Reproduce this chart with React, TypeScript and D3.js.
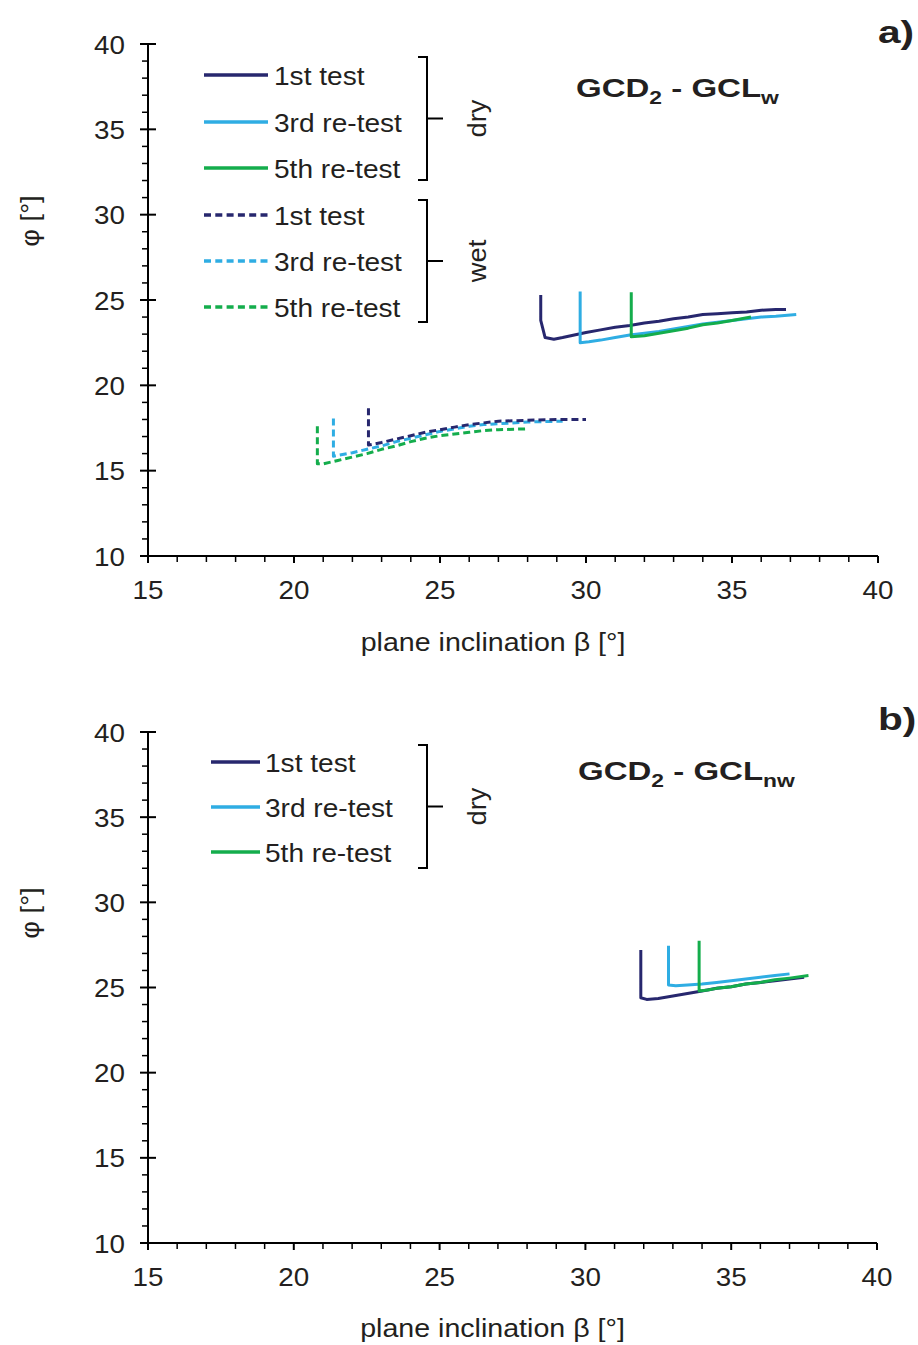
import React from "react";
import * as d3 from "d3";

type Pt = [number, number];

const xTicks = [15, 20, 25, 30, 35, 40];
const yTicks = [10, 15, 20, 25, 30, 35, 40];

// panel a) dry
const dry1stA: Pt[] = [[28.45, 25.3], [28.45, 23.8], [28.6, 22.8], [28.9, 22.7], [29.2, 22.8], [29.6, 22.95], [30, 23.1], [30.5, 23.25], [31, 23.4], [31.5, 23.5], [32, 23.65], [32.5, 23.75], [33, 23.9], [33.5, 24.0], [34, 24.15], [34.5, 24.2], [35, 24.25], [35.5, 24.3], [36, 24.4], [36.5, 24.45], [36.85, 24.45]];
const dry3rdA: Pt[] = [[29.8, 25.5], [29.8, 22.5], [30.1, 22.55], [30.5, 22.65], [31, 22.8], [31.5, 22.95], [32, 23.05], [32.5, 23.15], [33, 23.3], [33.5, 23.45], [34, 23.6], [34.5, 23.7], [35, 23.8], [35.5, 23.9], [36, 24.0], [36.5, 24.05], [37.2, 24.15]];
const dry5thA: Pt[] = [[31.55, 25.45], [31.55, 22.85], [32, 22.9], [32.5, 23.05], [33, 23.2], [33.5, 23.35], [34, 23.55], [34.5, 23.65], [35, 23.8], [35.65, 24.0]];
// panel a) wet
const wet1stA: Pt[] = [[22.55, 18.65], [22.55, 16.5], [23, 16.65], [23.5, 16.85], [24, 17.05], [24.5, 17.25], [25, 17.4], [25.5, 17.55], [26, 17.7], [26.5, 17.8], [27, 17.9], [28, 17.95], [29, 18.0], [30, 18.0]];
const wet3rdA: Pt[] = [[21.35, 18.05], [21.35, 15.85], [22, 16.05], [22.5, 16.25], [23, 16.45], [23.5, 16.7], [24, 16.9], [24.5, 17.1], [25, 17.3], [25.5, 17.45], [26, 17.6], [26.5, 17.7], [27, 17.75], [28, 17.85], [29.2, 17.9]];
const wet5thA: Pt[] = [[20.8, 17.6], [20.8, 15.4], [21.0, 15.4], [21.5, 15.6], [22, 15.8], [22.5, 16.0], [23, 16.25], [23.5, 16.45], [24, 16.7], [24.5, 16.9], [25, 17.05], [25.5, 17.15], [26, 17.25], [26.5, 17.35], [27, 17.4], [27.95, 17.45]];
// panel b) dry
const dry1stB: Pt[] = [[31.9, 27.2], [31.9, 24.4], [32.1, 24.3], [32.5, 24.35], [33, 24.5], [33.5, 24.65], [34, 24.8], [34.5, 24.95], [35, 25.05], [35.5, 25.2], [36, 25.3], [36.5, 25.4], [37, 25.5], [37.5, 25.6]];
const dry3rdB: Pt[] = [[32.85, 27.45], [32.85, 25.15], [33.1, 25.1], [33.5, 25.15], [34, 25.2], [34.5, 25.3], [35, 25.4], [35.5, 25.5], [36, 25.6], [36.5, 25.7], [37, 25.8]];
const dry5thB: Pt[] = [[33.9, 27.75], [33.9, 24.8], [34.2, 24.85], [34.5, 24.95], [35, 25.05], [35.5, 25.2], [36, 25.3], [36.5, 25.45], [37, 25.55], [37.65, 25.7]];

const legendLabels = ["1st test", "3rd re-test", "5th re-test"];
const NAVY = "#27276e";
const CYAN = "#2fade3";
const GREEN = "#14ad4c";
const colors = [NAVY, CYAN, GREEN];
const FONT = "Liberation Sans, Arial, sans-serif";
const INK = "#231f20";

type Series = { data: Pt[]; color: string; dashed: boolean };

function T(props: { x: number; y: number; size: number; sx?: number; anchor?: string; bold?: boolean; rot?: number; children: React.ReactNode }) {
  const sx = props.sx ?? 1.08;
  const tr = props.rot ? `translate(${props.x},${props.y}) rotate(${props.rot}) scale(${sx},1)` : `translate(${props.x},${props.y}) scale(${sx},1)`;
  return (
    <text transform={tr} textAnchor={props.anchor ?? "start"} fontSize={props.size}
      fontWeight={props.bold ? "bold" : "normal"} fontFamily={FONT} fill={INK}>{props.children}</text>
  );
}

function Panel(props: {
  x0: number; x1: number; yTop: number; yBot: number;
  series: Series[];
  legend: React.ReactNode;
  sub: string; titleX: number; titleY: number;
  letter: string; letterY: number;
  yLabelY: number; xLabelY: number;
}) {
  const { x0, x1, yTop, yBot } = props;
  const x = d3.scaleLinear().domain([15, 40]).range([x0, x1]);
  const y = d3.scaleLinear().domain([10, 40]).range([yBot, yTop]);
  const line = d3.line<Pt>().x((d) => x(d[0])).y((d) => y(d[1]));
  const xMinor = d3.range(15, 41, 1).filter((v) => v % 5 !== 0);
  const yMinor = d3.range(10, 41, 1).filter((v) => v % 5 !== 0);
  return (
    <g>
      <line x1={x0} x2={x1} y1={yBot} y2={yBot} stroke="#000" strokeWidth={2} />
      <line x1={x0} x2={x0} y1={yTop} y2={yBot + 6} stroke="#000" strokeWidth={2} />
      {xTicks.map((t) => (
        <g key={"xt" + t}>
          <line x1={x(t)} x2={x(t)} y1={yBot} y2={yBot + 7} stroke="#000" strokeWidth={2} />
          <T x={x(t)} y={yBot + 43} size={26} sx={1.07} anchor="middle">{t}</T>
        </g>
      ))}
      {xMinor.map((t) => (
        <line key={"xm" + t} x1={x(t)} x2={x(t)} y1={yBot} y2={yBot + 6} stroke="#000" strokeWidth={1.5} />
      ))}
      {yTicks.map((t) => (
        <g key={"yt" + t}>
          <line x1={x0 - 8} x2={x0 + 8} y1={y(t)} y2={y(t)} stroke="#000" strokeWidth={2} />
          <T x={x0 - 23} y={y(t) + 9.5} size={26} sx={1.07} anchor="end">{t}</T>
        </g>
      ))}
      {yMinor.map((t) => (
        <line key={"ym" + t} x1={x0 - 6} x2={x0} y1={y(t)} y2={y(t)} stroke="#000" strokeWidth={1.5} />
      ))}
      <T x={(x0 + x1) / 2 - 20} y={props.xLabelY} size={26} sx={1.1} anchor="middle">plane inclination β [°]</T>
      <T x={39} y={props.yLabelY} size={26} sx={1.05} anchor="middle" rot={-90}>φ [°]</T>
      {props.series.map((s, i) => (
        <path key={"s" + i} d={line(s.data) || ""} fill="none" stroke={s.color} strokeWidth={3}
          strokeDasharray={s.dashed ? "7 4" : undefined} strokeLinejoin="round" />
      ))}
      {props.legend}
      <T x={props.titleX} y={props.titleY} size={26} sx={1.27} bold>
        GCD<tspan fontSize={18} dy={7}>2</tspan><tspan dy={-7}> - GCL</tspan><tspan fontSize={18} dy={7}>{props.sub}</tspan>
      </T>
      <T x={878} y={props.letterY} size={32} sx={1.27} bold>{props.letter}</T>
    </g>
  );
}

function Legend(props: { x1: number; x2: number; ys: number[]; dashed: boolean; textX: number }) {
  return (
    <g>
      {props.ys.map((yy, i) => (
        <g key={i}>
          <line x1={props.x1} x2={props.x2} y1={yy} y2={yy} stroke={colors[i]} strokeWidth={3.5}
            strokeDasharray={props.dashed ? "7 4.3" : undefined} />
          <T x={props.textX} y={yy + 9.5} size={26} sx={1.08}>{legendLabels[i]}</T>
        </g>
      ))}
    </g>
  );
}

function Bracket(props: { x: number; y1: number; y2: number; label: string; labelX: number }) {
  const mid = (props.y1 + props.y2) / 2;
  return (
    <g>
      <path d={`M${props.x - 9},${props.y1} L${props.x},${props.y1} L${props.x},${props.y2} L${props.x - 9},${props.y2}`}
        fill="none" stroke="#000" strokeWidth={2} />
      <line x1={props.x} x2={props.x + 16} y1={mid} y2={mid} stroke="#000" strokeWidth={2} />
      <T x={props.labelX} y={mid} size={26} sx={1.05} anchor="middle" rot={-90}>{props.label}</T>
    </g>
  );
}

export default function App() {
  const seriesA: Series[] = [
    { data: wet5thA, color: GREEN, dashed: true },
    { data: wet3rdA, color: CYAN, dashed: true },
    { data: wet1stA, color: NAVY, dashed: true },
    { data: dry1stA, color: NAVY, dashed: false },
    { data: dry3rdA, color: CYAN, dashed: false },
    { data: dry5thA, color: GREEN, dashed: false },
  ];
  const seriesB: Series[] = [
    { data: dry1stB, color: NAVY, dashed: false },
    { data: dry3rdB, color: CYAN, dashed: false },
    { data: dry5thB, color: GREEN, dashed: false },
  ];
  return (
    <svg width={918} height={1345} style={{ position: "absolute", left: 0, top: 0, background: "#fff" }}>
      <rect width={918} height={1345} fill="#fff" />
      <Panel x0={148} x1={878} yTop={44} yBot={556} series={seriesA}
        sub="w" titleX={576} titleY={97} letter="a)" letterY={43}
        yLabelY={221} xLabelY={651}
        legend={
          <g>
            <Legend x1={204} x2={268} ys={[75, 122, 168]} dashed={false} textX={274} />
            <Legend x1={204} x2={268} ys={[215, 261, 307]} dashed={true} textX={274} />
            <Bracket x={427} y1={57} y2={180} label="dry" labelX={486} />
            <Bracket x={427} y1={200} y2={322} label="wet" labelX={486} />
          </g>
        } />
      <Panel x0={148} x1={877} yTop={732} yBot={1243} series={seriesB}
        sub="nw" titleX={578} titleY={780} letter="b)" letterY={730}
        yLabelY={913} xLabelY={1337}
        legend={
          <g>
            <Legend x1={211} x2={260} ys={[762, 807, 852]} dashed={false} textX={265} />
            <Bracket x={427} y1={745} y2={868} label="dry" labelX={486} />
          </g>
        } />
    </svg>
  );
}
